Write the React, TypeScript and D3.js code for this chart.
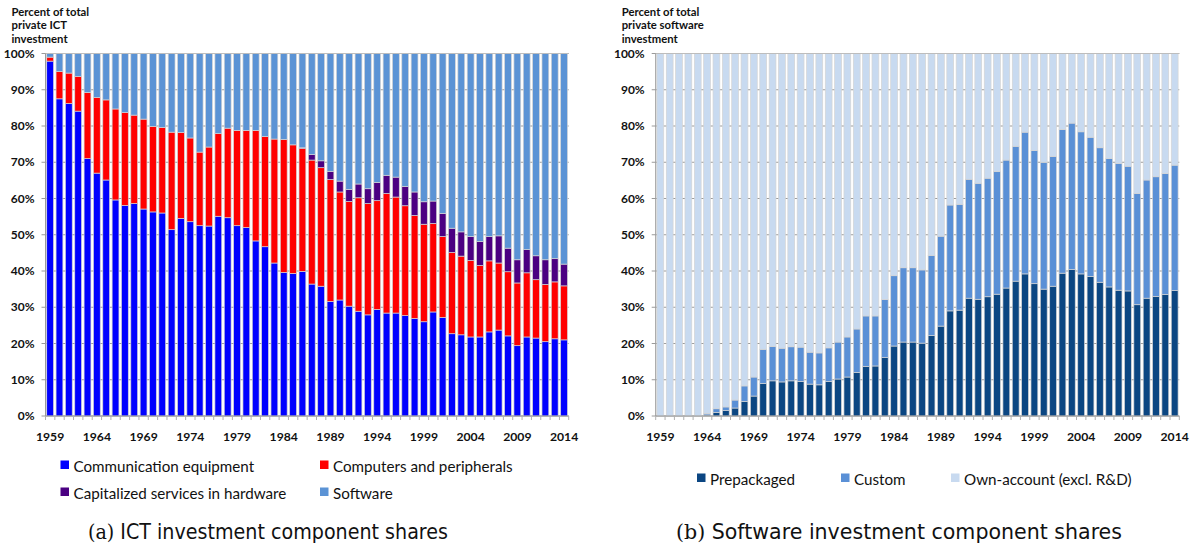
import React from "react";
import * as d3 from "d3";

const years: number[] = Array.from({ length: 56 }, (_, i) => 1959 + i);
const tickYears: string[] = ["1959","1964","1969","1974","1979","1984","1989","1994","1999","2004","2009","2014"];
const yTicks: number[] = [0,10,20,30,40,50,60,70,80,90,100];

// Panel (a): shares of total private ICT investment (%)
const commEquip: number[] = [97.9,87.5,86.2,84.1,71.0,67.0,65.1,59.6,58.1,58.6,57.1,56.3,56.0,51.4,54.5,53.6,52.5,52.4,55.1,54.7,52.5,52.0,48.3,46.7,42.2,39.6,39.3,39.9,36.4,35.8,31.6,32.0,30.3,28.9,27.9,29.4,28.4,28.4,27.7,26.9,26.0,28.7,27.2,22.7,22.4,21.8,21.8,23.2,23.7,22.1,19.4,21.8,21.5,20.5,21.3,21.0];
const computers: number[] = [1.1,7.5,8.4,9.6,18.2,20.9,22.1,25.1,25.6,24.4,24.8,23.6,23.6,26.9,23.7,23.1,20.3,21.8,22.8,24.7,26.3,26.8,30.5,30.4,34.2,36.7,35.5,33.9,34.2,32.7,33.6,29.8,28.9,31.3,30.7,30.0,33.0,32.0,30.3,28.4,26.9,24.4,22.3,22.4,21.7,21.1,19.7,19.6,18.5,17.7,17.3,17.7,16.1,15.8,15.7,14.9];
const capServices: number[] = [0,0,0,0,0,0,0,0,0,0,0,0,0,0,0,0,0,0,0,0,0,0,0,0,0,0,0,0.2,1.5,1.9,2.3,3.0,3.3,3.8,4.1,5.0,5.0,5.5,5.3,6.5,6.2,6.2,6.4,6.7,6.7,6.6,6.6,6.7,7.5,6.5,6.4,6.4,6.6,6.8,6.4,6.0];

// Panel (b): shares of total private software investment (%)
const prepackaged: number[] = [0,0,0,0,0,0.3,1.0,1.5,2.2,4.0,5.5,9.0,9.7,9.4,9.7,9.5,8.8,8.6,9.5,10.2,10.75,12.0,13.7,13.8,16.1,19.3,20.4,20.4,20.1,22.2,24.8,29.0,29.2,32.5,32.2,32.9,33.6,35.3,37.2,39.2,36.5,35.0,35.8,39.4,40.4,39.2,38.5,36.9,35.6,34.7,34.5,30.7,32.5,33.0,33.5,34.6];
const custom: number[] = [0,0,0,0,0,0.4,1.0,1.0,2.2,4.3,5.25,9.4,9.5,9.3,9.4,9.5,8.8,8.8,9.3,10.2,11.05,12.0,13.9,13.8,16.0,19.4,20.5,20.5,20.2,22.1,24.8,29.2,29.2,32.8,32.0,32.7,33.8,35.3,37.2,39.1,36.7,35.0,35.8,39.6,40.4,39.2,38.4,37.1,35.4,35.0,34.4,30.7,32.6,33.0,33.4,34.6];

type Series = { name: string; color: string; values: number[] };

const panelA: Series[] = [
  { name: "Communication equipment", color: "#0000FF", values: commEquip },
  { name: "Computers and peripherals", color: "#FF0000", values: computers },
  { name: "Capitalized services in hardware", color: "#4B0082", values: capServices },
  { name: "Software", color: "#5B93D5", values: years.map((_, i) => 100 - commEquip[i] - computers[i] - capServices[i]) },
];
const panelB: Series[] = [
  { name: "Prepackaged", color: "#0B4682", values: prepackaged },
  { name: "Custom", color: "#5A90D6", values: custom },
  { name: "Own-account (excl. R&D)", color: "#C8DAF0", values: years.map((_, i) => 100 - prepackaged[i] - custom[i]) },
];

const FONT = "Lato, 'Open Sans', sans-serif";

function Panel({ x0, x1, series, title, legend, caption, capX, capLen }: any) {
  const top = 53.5, bottom = 416;
  const xs = d3.scaleBand<string>().domain(years.map(String)).range([x0, x1]).paddingInner(0.27).paddingOuter(0.13);
  const ys = d3.scaleLinear().domain([0, 100]).range([bottom, top]);
  const stackData = years.map((y, i) => {
    const o: any = { year: String(y) };
    series.forEach((s: Series) => (o[s.name] = s.values[i]));
    return o;
  });
  const stacked = d3.stack().keys(series.map((s: Series) => s.name))(stackData);
  const step = xs.step();
  const boundaries = years.map((_, i) => x0 + i * step).concat([x1]);
  return (
    <g>
      {yTicks.map((t) => (
        <line key={"g" + t} x1={x0} x2={x1} y1={ys(t)} y2={ys(t)} stroke="#9a9a9a" strokeWidth={1.2} />
      ))}
      {stacked.map((layer: any, li: number) => (
        <g key={li}>
          {layer.map((d: any, i: number) => {
            const h = ys(d[0]) - ys(d[1]);
            if (h <= 0.01) return null;
            return (
              <rect key={i} x={xs(d.data.year)} y={ys(d[1])} width={xs.bandwidth()} height={h}
                fill={series[li].color} stroke="#d4d4d4" strokeWidth={0.7} />
            );
          })}
        </g>
      ))}
      <line x1={x0} x2={x1} y1={top} y2={top} stroke="#bdbdbd" strokeWidth={1} />
      <line x1={x0} x2={x0} y1={top} y2={bottom} stroke="#9a9a9a" strokeWidth={1} />
      <line x1={x0} x2={x1} y1={bottom} y2={bottom} stroke="#9a9a9a" strokeWidth={1} />
      {yTicks.map((t) => (
        <g key={"t" + t}>
          <line x1={x0 - 4} x2={x0} y1={ys(t)} y2={ys(t)} stroke="#9a9a9a" />
          <text x={x0 - 11} y={ys(t) + 4.2} textAnchor="end" fontFamily={FONT} fontWeight={700} fontSize={12} fill="#111">{t}%</text>
        </g>
      ))}
      {boundaries.map((bx, i) => (
        <line key={"b" + i} x1={bx} x2={bx} y1={bottom} y2={bottom + 4} stroke="#b0b0b0" />
      ))}
      {tickYears.map((t) => (
        <text key={"x" + t} x={(xs(t) as number) + xs.bandwidth() / 2} y={440.5} textAnchor="middle" fontFamily={FONT} fontWeight={700} fontSize={12.2} fill="#111">{t}</text>
      ))}
      {title.map((line: string, i: number) => (
        <text key={"ti" + i} x={x0 - 34} y={15.5 + i * 13.5} fontFamily={FONT} fontWeight={700} fontSize={11.3} fill="#111">{line}</text>
      ))}
      {legend.map((l: any, i: number) => (
        <g key={"l" + i}>
          <rect x={l.x - 13} y={l.y - 11.5} width={8.5} height={8.5} fill={series[l.idx].color} />
          <text x={l.x} y={l.y} fontFamily={FONT} fontSize={15.2} fill="#111">{series[l.idx].name}</text>
        </g>
      ))}
      <text x={capX} y={539} fontFamily="'DejaVu Sans', sans-serif" fontSize={21} fill="#111" textLength={capLen} lengthAdjust="spacingAndGlyphs">
        <tspan fontFamily="'DejaVu Serif', serif">{caption[0]}</tspan>
        <tspan>{" " + caption[1]}</tspan>
      </text>
    </g>
  );
}

export default function App() {
  return (
    <svg width={1191} height={550} style={{ position: "absolute", left: 0, top: 0, background: "#fff" }}>
      <rect width={1191} height={550} fill="#fff" />
      <Panel x0={45.5} x1={568.7} series={panelA}
        title={["Percent of total", "private ICT", "investment"]}
        legend={[{ idx: 0, x: 73.5, y: 472 }, { idx: 1, x: 333, y: 472 }, { idx: 2, x: 73.5, y: 499 }, { idx: 3, x: 333, y: 499 }]}
        caption={["(a)", "ICT investment component shares"]} capX={88} capLen={360} />
      <Panel x0={655.7} x1={1179.3} series={panelB}
        title={["Percent of total", "private software", "investment"]}
        legend={[{ idx: 0, x: 710, y: 485 }, { idx: 1, x: 854, y: 485 }, { idx: 2, x: 964, y: 485 }]}
        caption={["(b)", "Software investment component shares"]} capX={676} capLen={446} />
    </svg>
  );
}
